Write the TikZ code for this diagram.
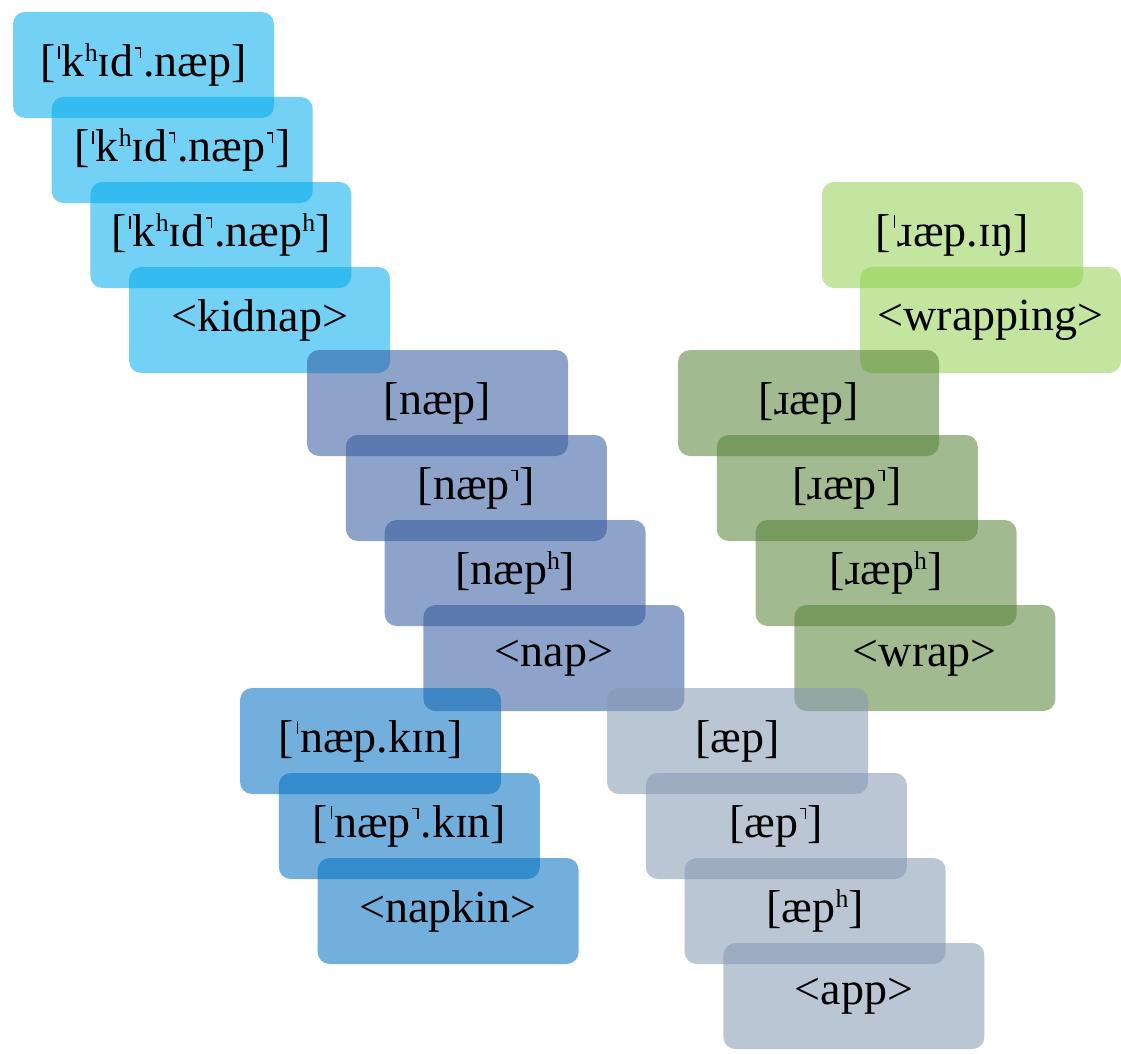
\documentclass[tikz,border=0pt]{standalone}
\usepackage{fontspec}
\usepackage{graphicx}
\setmainfont{Liberation Serif}
% unreleased-stop mark, stress mark and aspiration, drawn to scale
\newcommand\unrel{\kern0.03em\raisebox{0.60em}{\rule{0.14em}{0.035em}}\kern-0.035em\raisebox{0.40em}{\rule{0.035em}{0.235em}}\kern0.04em}
\newcommand\strs{\kern0.06em\raisebox{0.39em}{\rule{0.03em}{0.28em}}\kern0.05em}
\newcommand\asp{\raisebox{0.33em}{\scalebox{0.56}{h}}}
\definecolor{cyanA}{RGB}{0,171,238}
\definecolor{navyA}{RGB}{50,88,156}
\definecolor{limeA}{RGB}{146,208,80}
\definecolor{oliveA}{RGB}{84,130,53}
\definecolor{blueA}{RGB}{0,110,192}
\definecolor{greyA}{RGB}{132,151,176}
\tikzset{
  card/.style={rectangle, rounded corners=12pt, minimum width=261pt, minimum height=106pt,
    inner sep=0pt, fill opacity=0.55, text opacity=1, text=black,
    font=\fontsize{46}{52}\selectfont},
  cyancard/.style={card, fill=cyanA},
  navycard/.style={card, fill=navyA},
  limecard/.style={card, fill=limeA},
  olivecard/.style={card, fill=oliveA},
  bluecard/.style={card, fill=blueA},
  greycard/.style={card, fill=greyA},
}
\begin{document}
\begin{tikzpicture}[x=1pt, y=-1pt]
\useasboundingbox (0,0) rectangle (1121,1054);
% kidnap
\node[cyancard] (k1) at (143.5,65) {[\strs k\asp ɪd\unrel.næp]};
\node[cyancard] (k2) at (182.2,150) {[\strs k\asp ɪd\unrel.næp\unrel]};
\node[cyancard] (k3) at (220.9,235) {[\strs k\asp ɪd\unrel.næp\asp]};
\node[cyancard] (k4) at (259.6,320) {<kidnap>};
% nap
\node[navycard] (n1) at (437.5,403) {[næp]};
\node[navycard] (n2) at (476.3,488) {[næp\unrel]};
\node[navycard] (n3) at (515.1,573) {[næp\asp]};
\node[navycard] (n4) at (553.9,658) {<nap>};
% wrapping
\node[limecard] (w1) at (952.5,235) {[\strs ɹæp.ɪŋ]};
\node[limecard] (w2) at (990.5,320) {<wrapping>};
% wrap
\node[olivecard] (r1) at (808.5,403) {[ɹæp]};
\node[olivecard] (r2) at (847.3,488) {[ɹæp\unrel]};
\node[olivecard] (r3) at (886.1,573) {[ɹæp\asp]};
\node[olivecard] (r4) at (924.9,658) {<wrap>};
% napkin
\node[bluecard] (p1) at (370.5,741) {[\strs næp.kɪn]};
\node[bluecard] (p2) at (409.3,826) {[\strs næp\unrel.kɪn]};
\node[bluecard] (p3) at (448.1,911) {<napkin>};
% app
\node[greycard] (a1) at (737.5,741) {[æp]};
\node[greycard] (a2) at (776.3,826) {[æp\unrel]};
\node[greycard] (a3) at (815.1,911) {[æp\asp]};
\node[greycard] (a4) at (853.9,996) {<app>};
\end{tikzpicture}
\end{document}
